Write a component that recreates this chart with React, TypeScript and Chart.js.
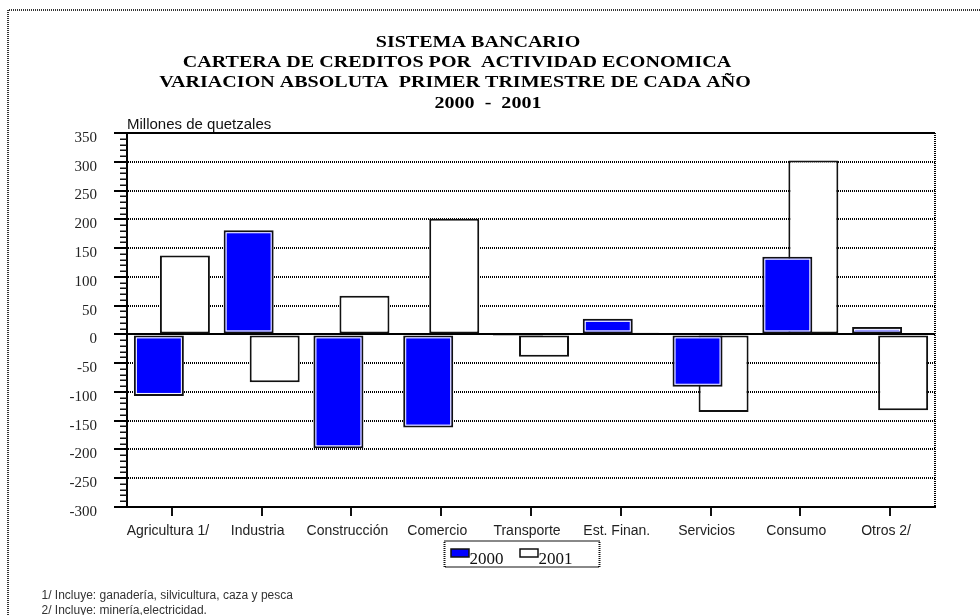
import React, { useEffect, useRef } from "react";
import { Chart, registerables } from "chart.js";

Chart.register(...registerables);

const categories = [
  "Agricultura 1/",
  "Industria",
  "Construcción",
  "Comercio",
  "Transporte",
  "Est. Finan.",
  "Servicios",
  "Consumo",
  "Otros 2/",
];
const values2000 = [-107, 181, -198, -162, -3, 27, -91, 135, 13];
const values2001 = [137, -83, 67, 201, -39, 3, -135, 302, -132];
const seriesLabels = ["2000", "2001"];
const yMin = -300;
const yMax = 350;
const yStep = 50;
const yMinorStep = 10;
const titleLines = [
  "SISTEMA BANCARIO",
  "CARTERA DE CREDITOS POR  ACTIVIDAD ECONOMICA",
  "VARIACION ABSOLUTA  PRIMER TRIMESTRE DE CADA AÑO",
  "2000  -  2001",
];
const unitLabel = "Millones de quetzales";
const footnotes = [
  "1/ Incluye: ganadería, silvicultura, caza y pesca",
  "2/ Incluye: minería,electricidad.",
];

const INK = "#111";

const decorPlugin = {
  id: "decor",
  beforeDraw(chart: any) {
    const ctx = chart.ctx;
    ctx.save();
    ctx.fillStyle = "#fff";
    ctx.fillRect(0, 0, chart.width, chart.height);
    ctx.restore();
  },
  afterDatasetsDraw(chart: any) {
    // thin white inner line on the 2000 bars
    const ctx = chart.ctx;
    const meta = chart.getDatasetMeta(0);
    ctx.save();
    ctx.strokeStyle = "#fff";
    ctx.lineWidth = 1;
    meta.data.forEach((el: any) => {
      const p = el.getProps(["x", "y", "base", "width"], true);
      const l = p.x - p.width / 2 + 2.5;
      const r = p.x + p.width / 2 - 2.5;
      const t = Math.min(p.y, p.base) + 2.5;
      const b = Math.max(p.y, p.base) - 2.5;
      if (b - t > 1) ctx.strokeRect(l, t, r - l, b - t);
    });
    ctx.restore();
  },
  afterDraw(chart: any) {
    const ctx = chart.ctx;
    const area = chart.chartArea;
    const yScale = chart.scales.y;
    ctx.save();

    // right dotted border of plot area
    ctx.strokeStyle = "#000";
    ctx.lineWidth = 2;
    ctx.setLineDash([1, 1]);
    ctx.beginPath();
    ctx.moveTo(area.right, area.top);
    ctx.lineTo(area.right, area.bottom);
    ctx.stroke();

    // outer dotted frame
    ctx.strokeStyle = "#333";
    ctx.lineWidth = 2;
    ctx.beginPath();
    ctx.moveTo(8, chart.height);
    ctx.lineTo(8, 10);
    ctx.lineTo(chart.width, 10);
    ctx.stroke();
    ctx.setLineDash([]);

    // minor ticks on y axis
    ctx.strokeStyle = INK;
    ctx.lineWidth = 1.5;
    for (let v = yMin; v <= yMax; v += yMinorStep) {
      if (v % yStep === 0) continue;
      const py = Math.round(yScale.getPixelForValue(v)) + 0.25;
      ctx.beginPath();
      ctx.moveTo(area.left - 7, py);
      ctx.lineTo(area.left, py);
      ctx.stroke();
    }

    // titles (horizontally stretched serif bold)
    const titleCenters = [478, 457, 455, 488];
    const titleBaselines = [47, 67, 87, 108];
    ctx.fillStyle = "#000";
    ctx.font = 'bold 17px "Liberation Serif"';
    ctx.textAlign = "center";
    ctx.textBaseline = "alphabetic";
    titleLines.forEach((line, i) => {
      ctx.save();
      ctx.translate(titleCenters[i], titleBaselines[i]);
      ctx.scale(1.18, 1);
      ctx.fillText(line, 0, 0);
      ctx.restore();
    });

    // unit label
    ctx.fillStyle = INK;
    ctx.font = '15px "Liberation Sans"';
    ctx.textAlign = "left";
    ctx.fillText(unitLabel, area.left, area.top - 4);

    // legend box
    const lx = 444.5;
    const ly = 541;
    const lw = 155;
    const lh = 26;
    ctx.strokeStyle = INK;
    ctx.lineWidth = 2;
    ctx.setLineDash([1, 1]);
    ctx.strokeRect(lx, ly, lw, lh);
    ctx.setLineDash([]);
    chart.data.datasets.forEach((ds: any, i: number) => {
      const sx = lx + 6.5 + i * 69;
      const sy = 549;
      ctx.fillStyle = ds.backgroundColor;
      ctx.fillRect(sx, sy, 18, 8);
      ctx.strokeStyle = INK;
      ctx.lineWidth = 1.5;
      ctx.strokeRect(sx, sy, 18, 8);
      ctx.fillStyle = INK;
      ctx.font = '17px "Liberation Serif"';
      ctx.fillText(seriesLabels[i], sx + 18.5, 564);
    });

    // footnotes
    ctx.fillStyle = "#333";
    ctx.font = '12px "Liberation Sans"';
    footnotes.forEach((f, i) => {
      ctx.fillText(f, 41.5, 599 + i * 15);
    });

    ctx.restore();
  },
};

export default function App() {
  const canvasRef = useRef<HTMLCanvasElement | null>(null);

  useEffect(() => {
    const canvas = canvasRef.current;
    if (!canvas) return;
    const barStyle = {
      borderColor: INK,
      borderWidth: 2,
      borderSkipped: false,
      categoryPercentage: 0.58,
      barPercentage: 1.92,
    };
    const chart = new Chart(canvas, {
      type: "bar",
      data: {
        labels: categories,
        datasets: [
          { label: seriesLabels[0], data: values2000, backgroundColor: "#0000ff", ...barStyle },
          { label: seriesLabels[1], data: values2001, backgroundColor: "#ffffff", ...barStyle },
        ],
      },
      options: {
        responsive: false,
        animation: false,
        devicePixelRatio: 1,
        layout: { padding: { left: 20, right: 45, top: 133, bottom: 68 } },
        plugins: {
          legend: { display: false },
          title: { display: false },
          tooltip: { enabled: false },
        },
        scales: {
          x: {
            grid: {
              drawOnChartArea: false,
              offset: false,
              tickLength: 9,
              color: INK,
              lineWidth: 2,
            },
            border: { display: true, color: "#000", width: 2 },
            ticks: {
              font: { family: "Liberation Sans", size: 14 },
              color: "#222",
              padding: 7,
              labelOffset: -4,
              maxRotation: 0,
              autoSkip: false,
            },
            afterFit: (s: any) => {
              s.height = 40;
            },
          },
          y: {
            min: yMin,
            max: yMax,
            ticks: {
              stepSize: yStep,
              font: { family: "Liberation Serif", size: 15 },
              color: "#222",
              padding: 17,
              labelOffset: 5,
            },
            grid: {
              color: "#000",
              lineWidth: 2,
              tickLength: 13,
              drawTicks: true,
            },
            border: {
              display: true,
              color: "#000",
              width: 2,
              dash: (ctx: any) =>
                ctx.tick && (ctx.tick.value === 0 || ctx.tick.value === yMax) ? [] : [1, 1],
            },
            afterFit: (s: any) => {
              s.width = 107;
            },
          },
        },
      },
      plugins: [decorPlugin],
    } as any);
    return () => chart.destroy();
  }, []);

  return (
    <canvas
      ref={canvasRef}
      width={980}
      height={615}
      style={{ position: "fixed", left: 0, top: 0, display: "block" }}
    />
  );
}
